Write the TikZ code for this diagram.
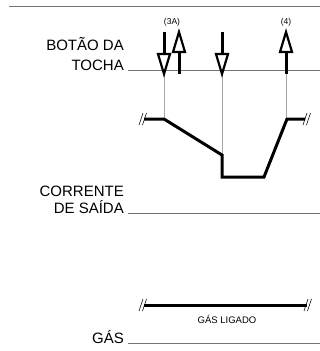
\documentclass[tikz,border=0pt]{standalone}
\usepackage{fontspec}
\setmainfont{Liberation Sans}
\begin{document}
\begin{tikzpicture}[x=1pt,y=-1pt,
  lbl/.style={font=\fontsize{15}{17}\selectfont, anchor=base east, inner sep=0pt},
  small/.style={font=\fontsize{8.5}{10}\selectfont, inner sep=0pt, anchor=base},
  baseln/.style={draw=black!55, line width=1pt},
  guide/.style={draw=black!35, line width=0.9pt},
  wave/.style={line width=3pt, line join=miter, line cap=butt},
  brk/.style={line width=0.6pt},
  shaft/.style={line width=3pt},
  head/.style={line width=2.2pt, fill=white, line join=miter}]
\useasboundingbox (0,0) rectangle (320,351);

% top rule
\coordinate (t0) at (9,6); \coordinate (t1) at (320,6);
\draw[baseln] (t0) -- (t1);

% labels
\node[lbl] (bot1) at (124,50) {BOTÃO DA};
\node[lbl] (bot2) at (124,70) {TOCHA};
\node[lbl] (cor1) at (124,196) {CORRENTE};
\node[lbl] (cor2) at (124,213) {DE SAÍDA};
\node[lbl] (gas) at (124,343) {GÁS};
\node[small] (l3a) at (172,24.5) {(3A)};
\node[small] (l4) at (286,24.5) {(4)};
\node[small, font=\fontsize{9.5}{11}\selectfont] (lig) at (227,323) {GÁS LIGADO};

% baselines
\coordinate (b1a) at (128,70); \coordinate (b1b) at (320,70);
\coordinate (b2a) at (128,213); \coordinate (b2b) at (320,213);
\coordinate (b3a) at (128,343); \coordinate (b3b) at (320,343);
\draw[baseln] (b1a) -- (b1b);
\draw[baseln] (b2a) -- (b2b);
\draw[baseln] (b3a) -- (b3b);

% current waveform points
\coordinate (w0) at (144,119);
\coordinate (w1) at (164,119);
\coordinate (w2) at (222,155);
\coordinate (w3) at (222,177);
\coordinate (w4) at (264,177);
\coordinate (w5) at (287,119);
\coordinate (w6) at (305,119);

% guides
\coordinate (g1) at (164,75); \coordinate (g2) at (222,75); \coordinate (g3) at (286,74);
\draw[guide] (g1) -- (w1);
\draw[guide] (g2) -- (w2);
\draw[guide] (g3) -- (286,119);

\draw[wave] (w0) -- (w1) -- (w2) -- (w3) -- (w4) -- (w5) -- (w6);

% break marks current
\foreach \x in {141,144.5} \draw[brk] (\x-2,125) -- (\x+2,113);
\foreach \x in {305,308.5} \draw[brk] (\x-2,125) -- (\x+2,113);

% gas line
\coordinate (ga) at (144,305); \coordinate (gb) at (307,305);
\draw[wave] (ga) -- (gb);
\foreach \x in {141,144.5} \draw[brk] (\x-2,311) -- (\x+2,299);
\foreach \x in {306,309.5} \draw[brk] (\x-2,311) -- (\x+2,299);

% arrows
% down arrow 1
\draw[shaft] (164,32) -- (164,54);
\draw[head] (158,54) -- (170,54) -- (164,74) -- cycle;
% up arrow 3A
\draw[shaft] (179,52) -- (179,74);
\draw[head] (173,52) -- (185,52) -- (179,32) -- cycle;
% down arrow 2
\draw[shaft] (222,32) -- (222,54);
\draw[head] (216,54) -- (228,54) -- (222,74) -- cycle;
% up arrow 4
\draw[shaft] (286,52) -- (286,74);
\draw[head] (280,52) -- (292,52) -- (286,32) -- cycle;
\end{tikzpicture}
\end{document}
